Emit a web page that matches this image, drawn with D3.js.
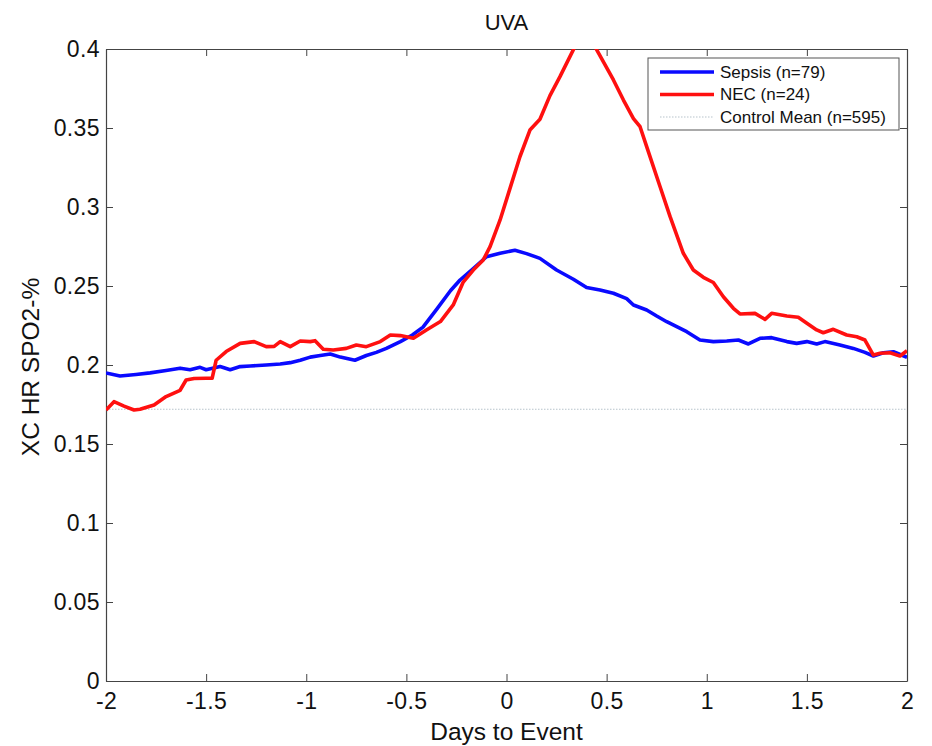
<!DOCTYPE html>
<html>
<head>
<meta charset="utf-8">
<script src="https://cdn.jsdelivr.net/npm/d3@7/dist/d3.min.js"></script>
<style>
  html, body { margin: 0; padding: 0; background: #fff; }
  svg { display: block; font-family: "Liberation Sans", Arial, sans-serif; }
</style>
</head>
<body>
<svg id="chart" width="932" height="746"></svg>
<script>
// Days relative to event and mean cross-correlation for each cohort
const sepsisDays = [-2.00,-1.93,-1.85,-1.78,-1.70,-1.63,-1.58,-1.53,-1.50,-1.43,-1.38,-1.33,-1.28,-1.20,-1.13,-1.08,-1.03,-0.98,-0.93,-0.88,-0.83,-0.757,-0.70,-0.65,-0.60,-0.53,-0.47,-0.417,-0.35,-0.28,-0.232,-0.166,-0.10,-0.032,0.042,0.10,0.167,0.25,0.334,0.40,0.467,0.534,0.60,0.634,0.70,0.75,0.80,0.90,0.966,1.033,1.10,1.158,1.208,1.266,1.324,1.40,1.449,1.50,1.549,1.59,1.665,1.732,1.79,1.832,1.882,1.932,2.00];
const sepsisValues = [0.195,0.193,0.194,0.195,0.1965,0.198,0.197,0.1985,0.197,0.199,0.197,0.199,0.1994,0.200,0.2006,0.2015,0.203,0.205,0.206,0.207,0.205,0.203,0.206,0.208,0.2105,0.2148,0.219,0.224,0.235,0.247,0.2538,0.261,0.2685,0.2707,0.2726,0.2705,0.2675,0.2601,0.2543,0.249,0.2475,0.2454,0.242,0.238,0.2348,0.231,0.2274,0.2211,0.2158,0.2148,0.2152,0.2158,0.2133,0.2169,0.2173,0.2148,0.2137,0.2148,0.2133,0.2148,0.2127,0.2105,0.208,0.2057,0.2078,0.2084,0.2049];

const necDays = [-2.00,-1.96,-1.91,-1.86,-1.83,-1.76,-1.70,-1.63,-1.60,-1.56,-1.50,-1.47,-1.45,-1.40,-1.33,-1.26,-1.20,-1.16,-1.13,-1.08,-1.03,-0.98,-0.956,-0.915,-0.865,-0.80,-0.75,-0.70,-0.63,-0.58,-0.53,-0.465,-0.40,-0.33,-0.266,-0.216,-0.166,-0.116,-0.082,-0.032,0.0175,0.067,0.117,0.167,0.217,0.267,0.334,0.37,0.40,0.42,0.45,0.534,0.584,0.634,0.667,0.70,0.767,0.817,0.883,0.933,0.983,1.033,1.083,1.133,1.166,1.241,1.291,1.324,1.40,1.457,1.50,1.549,1.582,1.632,1.699,1.749,1.79,1.832,1.865,1.915,1.965,2.00];
const necValues = [0.1715,0.1768,0.174,0.1715,0.172,0.1747,0.180,0.184,0.1905,0.1915,0.1916,0.1916,0.203,0.2085,0.2137,0.2148,0.2116,0.2118,0.2148,0.2116,0.2152,0.2148,0.2154,0.210,0.2095,0.2105,0.2127,0.2116,0.2148,0.219,0.2186,0.2169,0.2222,0.2275,0.238,0.2525,0.2601,0.2665,0.2749,0.2918,0.3118,0.3318,0.3487,0.3555,0.3705,0.3825,0.3996,0.408,0.410,0.407,0.3996,0.3804,0.3677,0.356,0.3508,0.3382,0.3128,0.2939,0.2707,0.2601,0.2555,0.2522,0.2432,0.2359,0.2323,0.2327,0.2289,0.2327,0.231,0.2302,0.2264,0.2222,0.2204,0.2226,0.219,0.2179,0.2158,0.2063,0.2074,0.2078,0.2057,0.209];

const controlMean = 0.172;

const xTicks = [-2,-1.5,-1,-0.5,0,0.5,1,1.5,2];
const yTicks = [0,0.05,0.1,0.15,0.2,0.25,0.3,0.35,0.4];

const seriesNames = ["Sepsis (n=79)", "NEC (n=24)", "Control Mean (n=595)"];

const svg = d3.select("#chart");
const margin = { left: 106, right: 25, top: 49, bottom: 65 };
const W = 932, H = 746;
const x = d3.scaleLinear().domain([-2, 2]).range([margin.left, W - margin.right]);
const y = d3.scaleLinear().domain([0, 0.4]).range([H - margin.bottom, margin.top]);

const axisColor = "#444";
const fmt = d => String(+d.toFixed(2));

svg.append("defs").append("clipPath").attr("id", "plotClip")
  .append("rect")
  .attr("x", x(-2)).attr("y", y(0.4))
  .attr("width", x(2) - x(-2)).attr("height", y(0) - y(0.4));

// Axes: inward ticks on all four sides, labels on bottom and left only
const gBottom = svg.append("g").attr("transform", `translate(0,${y(0)})`)
  .call(d3.axisBottom(x).tickValues(xTicks).tickFormat(fmt).tickSize(-7).tickSizeOuter(0).tickPadding(12));
const gTop = svg.append("g").attr("transform", `translate(0,${y(0.4)})`)
  .call(d3.axisTop(x).tickValues(xTicks).tickFormat("").tickSize(-7).tickSizeOuter(0));
const gLeft = svg.append("g").attr("transform", `translate(${x(-2)},0)`)
  .call(d3.axisLeft(y).tickValues(yTicks).tickFormat(fmt).tickSize(-7).tickSizeOuter(0).tickPadding(6));
const gRight = svg.append("g").attr("transform", `translate(${x(2)},0)`)
  .call(d3.axisRight(y).tickValues(yTicks).tickFormat("").tickSize(-7).tickSizeOuter(0));

[gBottom, gTop, gLeft, gRight].forEach(g => {
  g.select(".domain").attr("stroke", axisColor).attr("stroke-width", 1.2);
  g.selectAll(".tick line").attr("stroke", axisColor).attr("stroke-width", 1);
  g.selectAll(".tick text").attr("fill", "#111")
    .style("font-size", "23px").style("letter-spacing", "0.4px");
});

// Control mean reference line
svg.append("line")
  .attr("x1", x(-2)).attr("x2", x(2))
  .attr("y1", y(controlMean)).attr("y2", y(controlMean))
  .attr("stroke", "#b8c4cc").attr("stroke-width", 1.2)
  .attr("stroke-dasharray", "1.5,1.5");

const line = d3.line().x(d => x(d[0])).y(d => y(d[1]));
const plot = svg.append("g").attr("clip-path", "url(#plotClip)");

plot.append("path")
  .datum(sepsisDays.map((d, i) => [d, sepsisValues[i]]))
  .attr("d", line).attr("fill", "none")
  .attr("stroke", "#0a0aff").attr("stroke-width", 3.6).attr("stroke-linejoin", "round");

plot.append("path")
  .datum(necDays.map((d, i) => [d, necValues[i]]))
  .attr("d", line).attr("fill", "none")
  .attr("stroke", "#ff1010").attr("stroke-width", 3.6).attr("stroke-linejoin", "round");

// Title and axis labels
svg.append("text").attr("x", (x(-2) + x(2)) / 2).attr("y", 30)
  .attr("text-anchor", "middle").style("font-size", "22px").attr("fill", "#111").text("UVA");
svg.append("text").attr("x", (x(-2) + x(2)) / 2).attr("y", 740)
  .attr("text-anchor", "middle").style("font-size", "24.5px").attr("fill", "#111").text("Days to Event");
svg.append("text").attr("transform", `translate(39,${y(0.2) + 2}) rotate(-90)`)
  .attr("text-anchor", "middle").style("font-size", "24.5px").attr("fill", "#111").text("XC HR SPO2-%");

// Legend
const lg = svg.append("g");
lg.append("rect").attr("x", 648).attr("y", 58).attr("width", 251).attr("height", 72)
  .attr("fill", "#fff").attr("stroke", "#555").attr("stroke-width", 1);
const legendStyles = [
  { color: "#0a0aff", width: 3.6, dash: null },
  { color: "#ff1010", width: 3.6, dash: null },
  { color: "#b8c4cc", width: 1.2, dash: "1.5,1.5" }
];
seriesNames.forEach((name, i) => {
  const cy = 72 + i * 22.5;
  const s = legendStyles[i];
  lg.append("line").attr("x1", 660).attr("x2", 714).attr("y1", cy).attr("y2", cy)
    .attr("stroke", s.color).attr("stroke-width", s.width)
    .attr("stroke-dasharray", s.dash);
  lg.append("text").attr("x", 720).attr("y", cy).attr("dy", "0.35em")
    .style("font-size", "17px").attr("fill", "#111").text(name);
});
</script>
</body>
</html>
